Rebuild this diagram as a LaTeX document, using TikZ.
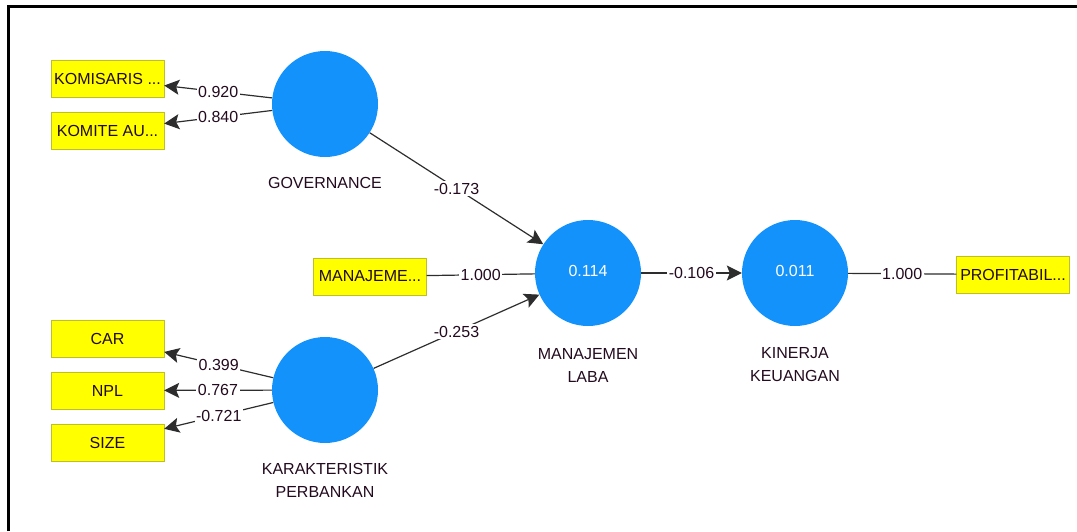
\documentclass[tikz,border=0pt]{standalone}
\usepackage{fontspec}
\setmainfont{Liberation Sans}
\usetikzlibrary{positioning, arrows.meta}
\definecolor{latentblue}{RGB}{20,146,252}
\definecolor{indyellow}{RGB}{255,255,0}
\definecolor{indborder}{RGB}{190,190,40}
\definecolor{linkgray}{RGB}{45,45,45}
\definecolor{labeltext}{RGB}{35,10,30}
\tikzset{
  latent/.style={circle, minimum size=106pt, inner sep=0pt, fill=latentblue, text=white},
  indicator/.style={rectangle, minimum width=113pt, minimum height=37pt, inner sep=1pt, draw=indborder, fill=indyellow, text=labeltext},
  caption/.style={align=center, inner sep=0pt, text=labeltext},
  link/.style={draw=linkgray, line width=1.2pt},
  pathtip/.style={link, -{Stealth[length=15pt, width=15pt, inset=3pt]}},
  coef/.style={fill=white, inner sep=1.5pt, text=labeltext}
}

\begin{document}
\begin{tikzpicture}[x=1pt, y=-1pt, font=\fontsize{16}{23}\selectfont]
\useasboundingbox (0,0) rectangle (1077,531);
\draw [line width=2.5pt] (8.5,531) -- (8.5,6.5) -- (1077,6.5);
% latent variables
\node (gov) [latent] at (325,104) {};
\node (kar) [latent] at (325,390) {};
\node (ml) [latent] at (588,273) {\raisebox{4pt}{0.114}};
\node (kk) [latent] at (795,273) {\raisebox{4pt}{0.011}};
\node (govlbl) [caption, below=20pt of gov] {GOVERNANCE};
\node (karlbl) [caption, below=20pt of kar] {KARAKTERISTIK\\PERBANKAN};
\node (mllbl) [caption, below=22pt of ml] {MANAJEMEN\\LABA};
\node (kklbl) [caption, below=21pt of kk] {KINERJA\\KEUANGAN};
% indicators
\node (kom) [indicator] at (107.5,79) {KOMISARIS ...};
\node (kau) [indicator] at (107.5,130.5) {KOMITE AU...};
\node (car) [indicator] at (107.5,338.5) {CAR};
\node (npl) [indicator] at (107.5,390.5) {NPL};
\node (size) [indicator] at (107.5,442.5) {SIZE};
\node (mlind) [indicator] at (370,276.5) {MANAJEME...};
\node (prof) [indicator] at (1013,274.5) {PROFITABIL...};
% outer loadings
\draw [pathtip] (gov) -- node[coef] {0.920} (kom);
\draw [pathtip] (gov) -- node[coef] {0.840} (kau);
\draw [pathtip] (kar) -- node[coef] {0.399} (car);
\draw [pathtip] (kar) -- node[coef] {0.767} (npl);
\draw [pathtip] (kar) -- node[coef] {-0.721} (size);
\draw [link] (mlind) -- node[coef] {1.000} (ml);
\draw [link] (kk) -- node[coef] {1.000} (prof);
% path coefficients
\draw [pathtip] (gov) -- node[coef] {-0.173} (ml);
\draw [pathtip] (kar) -- node[coef] {-0.253} (ml);
\draw [pathtip] (ml) -- node[coef] {-0.106} (kk);
\end{tikzpicture}
\end{document}
